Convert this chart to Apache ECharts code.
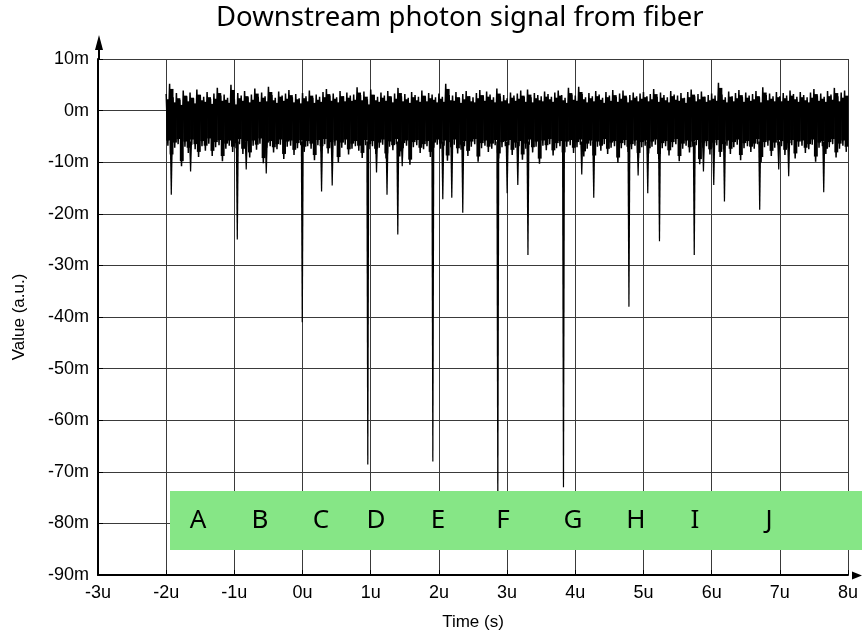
<!DOCTYPE html>
<html>
<head>
<meta charset="utf-8">
<script src="https://cdn.jsdelivr.net/npm/echarts@6/dist/echarts.min.js"></script>
<style>
  html, body { margin: 0; padding: 0; background: #fff; }
  #chart { width: 862px; height: 634px; }
</style>
</head>
<body>
<div id="chart"></div>
<script>
// signal band, 0.05u bins starting at -2u (upper / lower edge of the noise, in m)
var bandStart = -2;
var binWidth = 0.05;
var bandHigh = [
  3.2,5.2,2.6,3.4,2.1,3.9,2.8,3.5,2.4,4.1,3.0,2.7,3.6,2.3,3.3,4.4,2.9,3.1,2.5,5.0,
  2.2,3.4,2.9,3.8,2.6,3.1,4.3,2.7,3.5,2.8,4.6,3.0,2.5,3.7,2.9,3.3,4.0,2.6,3.2,2.4,
  3.4,2.8,3.9,2.5,3.1,2.7,3.6,4.2,2.9,3.3,2.6,3.8,2.8,3.5,2.9,3.1,4.5,3.0,3.7,2.2,
  4.1,3.0,2.7,3.5,2.9,3.8,2.6,3.3,4.4,2.8,3.2,2.5,3.6,3.0,2.7,3.9,2.8,3.4,3.1,2.6,
  3.3,2.7,5.2,3.0,2.9,3.6,2.5,3.2,3.8,2.8,2.6,3.4,4.0,2.9,3.7,3.1,2.6,4.3,2.8,3.0,
  2.4,3.5,2.9,3.3,3.9,2.7,4.1,2.6,3.4,3.0,2.8,3.7,3.2,2.7,3.5,3.9,3.0,2.5,4.4,3.1,
  2.9,4.6,3.2,2.6,3.4,2.8,3.8,3.1,2.5,3.6,2.9,4.0,2.7,3.3,3.9,2.6,3.0,3.5,2.8,3.3,
  3.6,2.8,3.2,4.2,2.7,3.5,3.0,2.6,3.8,3.1,2.9,3.4,2.5,3.6,4.1,2.8,3.2,3.7,2.7,3.0,
  3.3,2.9,5.4,3.1,2.6,3.7,2.8,3.4,4.0,2.7,3.5,2.9,3.2,3.8,2.6,4.5,3.0,3.3,2.8,3.6,
  2.8,3.4,2.9,3.9,3.2,2.7,3.6,3.0,2.6,3.5,4.2,2.9,3.3,2.7,3.8,3.1,4.4,2.8,3.5,3.9
];
var bandLow = [
  -6.8,-9.5,-7.2,-6.5,-10.8,-7.0,-8.2,-6.6,-7.5,-9.0,-6.9,-7.8,-6.4,-8.8,-7.1,-6.7,-9.8,-7.4,-6.8,-8.0,
  -7.3,-6.5,-8.4,-7.0,-9.1,-6.8,-7.6,-6.4,-10.2,-7.2,-6.9,-8.1,-7.5,-6.6,-9.4,-7.0,-6.8,-8.6,-7.3,-6.7,
  -8.0,-6.9,-7.4,-9.6,-6.7,-7.9,-6.5,-8.3,-7.1,-6.8,-10.0,-7.2,-6.6,-8.5,-7.4,-6.9,-7.8,-9.2,-6.7,-7.5,
  -6.9,-8.4,-7.2,-6.6,-9.3,-7.0,-7.7,-6.5,-8.9,-7.3,-6.8,-10.5,-7.1,-6.7,-8.2,-7.5,-6.9,-9.0,-7.2,-6.6,
  -7.4,-6.8,-9.7,-7.1,-6.6,-8.3,-7.6,-6.9,-8.8,-7.0,-6.5,-9.9,-7.3,-6.8,-8.0,-7.4,-6.7,-9.3,-7.1,-6.9,
  -6.7,-8.6,-7.2,-6.9,-9.5,-7.4,-6.6,-8.1,-7.0,-10.3,-6.8,-7.7,-6.5,-8.7,-7.3,-6.9,-9.1,-7.0,-6.7,-8.2,
  -7.1,-6.6,-8.9,-7.4,-6.8,-9.7,-7.0,-7.8,-6.5,-8.4,-7.2,-6.9,-10.1,-7.3,-6.7,-8.0,-7.5,-6.8,-9.2,-7.1,
  -6.8,-8.3,-7.0,-6.6,-9.4,-7.3,-6.9,-8.7,-7.1,-6.5,-9.8,-7.4,-6.8,-8.1,-7.0,-6.7,-10.4,-7.2,-6.9,-8.5,
  -7.2,-6.7,-9.0,-7.5,-6.8,-8.4,-7.1,-6.6,-9.6,-7.3,-6.9,-8.0,-7.4,-6.5,-10.0,-7.1,-6.8,-8.8,-7.2,-6.7,
  -6.9,-8.6,-7.3,-6.7,-9.3,-7.0,-6.8,-8.2,-7.5,-6.6,-9.9,-7.2,-6.9,-8.4,-7.1,-6.5,-9.1,-7.4,-6.8,-8.0
];

// downward spikes: [time (u), value (m)]
var spikes = [
  [-1.925,-16.3],[-1.642,-11.8],[-0.957,-25.0],[-0.826,-11.4],[-0.532,-12.2],
  [-0.004,-41.0],[0.279,-15.7],[0.435,-14.5],[0.957,-68.6],[1.085,-12.0],
  [1.239,-16.3],[1.397,-24.0],[1.462,-10.8],[1.911,-68.0],[2.057,-17.2],
  [2.189,-16.9],[2.350,-19.8],[2.864,-76.0],[3.001,-16.0],[3.157,-14.4],
  [3.306,-28.0],[3.827,-73.0],[4.095,-12.4],[4.271,-16.9],[4.787,-38.0],
  [4.922,-12.6],[5.063,-16.0],[5.235,-25.3],[5.745,-28.0],[5.880,-11.8],
  [6.031,-14.4],[6.188,-17.6],[6.705,-19.2],[6.984,-11.4],[7.130,-12.7],
  [7.644,-15.8]
];

var letters = ["A", "B", "C", "D", "E", "F", "G", "H", "I", "J"];

var chart = echarts.init(document.getElementById("chart"));

var bandData = [];
var binData = [];
for (var i = 0; i < bandHigh.length; i++) {
  var t = bandStart + i * binWidth;
  bandData.push([t, bandHigh[i]]);
  bandData.push([t + binWidth / 2, bandLow[i]]);
  binData.push([t, bandHigh[i], bandLow[i]]);
}

var axisFont = { fontFamily: "Liberation Sans", fontSize: 18, color: "#000" };

// letter positions (px) inside the green strip
var letterX = [198, 260, 321, 376, 438, 503, 573, 636, 695, 769];
var graphics = [
  { type: "rect", z: 50, shape: { x: 170, y: 491, width: 692, height: 59 }, style: { fill: "#86e686" } },
  // axis arrows
  { type: "line", z: 60, shape: { x1: 99, y1: 60, x2: 99, y2: 45 }, style: { stroke: "#000", lineWidth: 2 } },
  { type: "polygon", z: 60, shape: { points: [[99, 35], [95, 50], [103, 50]] }, style: { fill: "#000" } },
  { type: "polygon", z: 60, shape: { points: [[862, 575.5], [852, 571.5], [852, 579.5]] }, style: { fill: "#000" } }
];
letters.forEach(function (l, k) {
  graphics.push({
    type: "text", z: 60, x: letterX[k], y: 521,
    style: { text: l, fill: "#000", font: "26px 'Noto Sans'", textAlign: "center", textVerticalAlign: "middle" }
  });
});

var option = {
  animation: false,
  backgroundColor: "#fff",
  title: {
    text: "Downstream photon signal from fiber",
    left: 211, top: -1,
    textStyle: { fontFamily: "Noto Sans", fontSize: 27.5, fontWeight: "normal", color: "#000" }
  },
  grid: { left: 98, right: 14, top: 59, bottom: 59, containLabel: false, outerBoundsMode: "none" },
  xAxis: {
    type: "value", min: -3, max: 8, interval: 1,
    name: "Time (s)", nameLocation: "middle", nameGap: 39,
    nameTextStyle: { fontFamily: "Liberation Sans", fontSize: 17, color: "#000" },
    axisLine: { onZero: false, lineStyle: { color: "#000", width: 2 } },
    axisTick: { inside: true, length: 5, lineStyle: { color: "#000" } },
    axisLabel: Object.assign({ margin: 9, formatter: function (v) { return v + "u"; } }, axisFont),
    splitLine: { show: true, lineStyle: { color: "#3a3a3a", width: 1 } }
  },
  yAxis: {
    type: "value", min: -90, max: 10, interval: 10,
    name: "Value (a.u.)", nameLocation: "middle", nameGap: 70, nameRotate: 90,
    nameTextStyle: { fontFamily: "Liberation Sans", fontSize: 17, color: "#000" },
    axisLine: { onZero: false, lineStyle: { color: "#000", width: 2 } },
    axisTick: { inside: true, length: 5, lineStyle: { color: "#000" } },
    axisLabel: Object.assign({ margin: 9, formatter: function (v) { return v + "m"; } }, axisFont),
    splitLine: { show: true, lineStyle: { color: "#3a3a3a", width: 1 } }
  },
  series: [
    {
      // solid core of each noise bin
      type: "custom", data: binData, silent: true,
      renderItem: function (params, api) {
        var a = api.coord([api.value(0), api.value(1) - 1.0]);
        var b = api.coord([api.value(0) + binWidth, api.value(2) + 1.0]);
        return {
          type: "rect",
          shape: { x: a[0], y: a[1], width: b[0] - a[0] + 0.5, height: b[1] - a[1] },
          style: { fill: "#000" }
        };
      }
    },
    {
      type: "line", data: bandData, symbol: "none", silent: true,
      lineStyle: { color: "#000", width: 1.5 }
    },
    {
      type: "custom", data: spikes, silent: true,
      renderItem: function (params, api) {
        var top = api.coord([api.value(0), -6]);
        var bot = api.coord([api.value(0), api.value(1)]);
        return {
          type: "polygon",
          shape: { points: [[top[0] - 1.5, top[1]], [top[0] + 1.5, top[1]], [bot[0] + 0.6, bot[1]], [bot[0] - 0.6, bot[1]]] },
          style: { fill: "#000" }
        };
      }
    }
  ],
  graphic: graphics
};

chart.setOption(option);
</script>
</body>
</html>
